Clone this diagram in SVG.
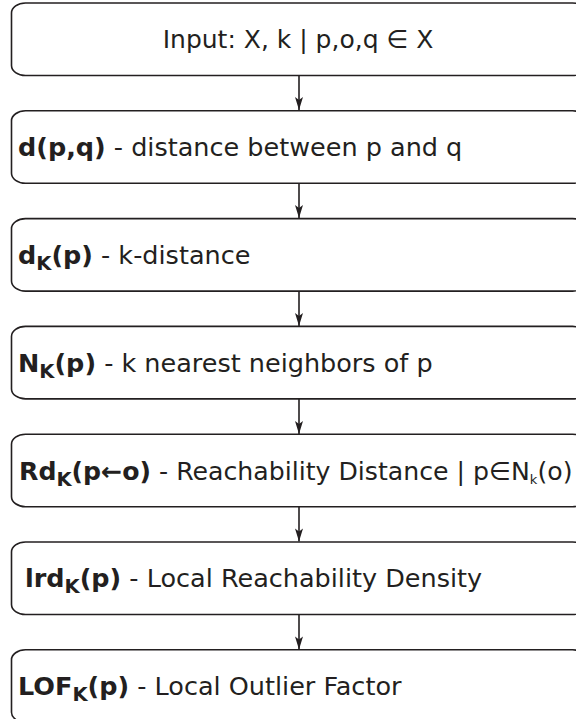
<svg xmlns="http://www.w3.org/2000/svg" width="576" height="719" viewBox="0 0 576 719">
<style>
.box{fill:#fff;stroke:#231f20;stroke-width:1.6}
text{font-family:"DejaVu Sans",sans-serif;font-size:25.5px;fill:#231f20}
text.c{font-size:25px}
text.w{font-size:25.2px}
.b{font-weight:bold}
.sub{font-size:19.5px}
.conn line{stroke:#231f20;stroke-width:1.6}
.conn path{fill:#231f20}
</style>
<rect width="576" height="719" fill="#fff"/>
<g class="conn">
<line x1="299" y1="75.5" x2="299" y2="110"/>
<line x1="299" y1="183.3" x2="299" y2="218"/>
<line x1="299" y1="291.1" x2="299" y2="326"/>
<line x1="299" y1="398.9" x2="299" y2="434"/>
<line x1="299" y1="506.7" x2="299" y2="541.5"/>
<line x1="299" y1="614.5" x2="299" y2="649.5"/>
<path d="M295,97 L299,100 L303,97 L299,110 Z"/>
<path d="M295,205 L299,208 L303,205 L299,218 Z"/>
<path d="M295,313 L299,316 L303,313 L299,326 Z"/>
<path d="M295,421 L299,424 L303,421 L299,434 Z"/>
<path d="M295,528.5 L299,531.5 L303,528.5 L299,541.5 Z"/>
<path d="M295,636.5 L299,639.5 L303,636.5 L299,649.5 Z"/>
</g>
<g id="n1"><rect class="box" x="11.5" y="3" width="575" height="72.5" rx="14" ry="10"/>
<text class="c" x="298" y="48" text-anchor="middle">Input: X, k | p,o,q ∈ X</text></g>
<g id="n2"><rect class="box" x="11.5" y="110.8" width="575" height="72.5" rx="14" ry="10"/>
<text x="18" y="156"><tspan class="b">d(p,q)</tspan> - distance between p and q</text></g>
<g id="n3"><rect class="box" x="11.5" y="218.6" width="575" height="72.5" rx="14" ry="10"/>
<text x="18" y="264"><tspan class="b">d</tspan><tspan class="b sub" dy="6">K</tspan><tspan class="b" dy="-6">(p)</tspan> - k-distance</text></g>
<g id="n4"><rect class="box" x="11.5" y="326.4" width="575" height="72.5" rx="14" ry="10"/>
<text x="18" y="372"><tspan class="b">N</tspan><tspan class="b sub" dy="6">K</tspan><tspan class="b" dy="-6">(p)</tspan> - k nearest neighbors of p</text></g>
<g id="n5"><rect class="box" x="11.5" y="434.2" width="575" height="72.5" rx="14" ry="10"/>
<text class="w" x="19" y="480"><tspan class="b">Rd</tspan><tspan class="b sub" dy="6">K</tspan><tspan class="b" dy="-6">(p←o)</tspan> - Reachability Distance | p∈N<tspan style="font-size:13px" dy="4">k</tspan><tspan dy="-4">(o)</tspan></text></g>
<g id="n6"><rect class="box" x="11.5" y="542" width="575" height="72.5" rx="14" ry="10"/>
<text x="25" y="587"><tspan class="b">lrd</tspan><tspan class="b sub" dy="6">K</tspan><tspan class="b" dy="-6">(p)</tspan> - Local Reachability Density</text></g>
<g id="n7"><rect class="box" x="11.5" y="649.8" width="575" height="72.5" rx="14" ry="10"/>
<text x="18" y="695"><tspan class="b">LOF</tspan><tspan class="b sub" dy="6">K</tspan><tspan class="b" dy="-6">(p)</tspan> - Local Outlier Factor</text></g>
</svg>
